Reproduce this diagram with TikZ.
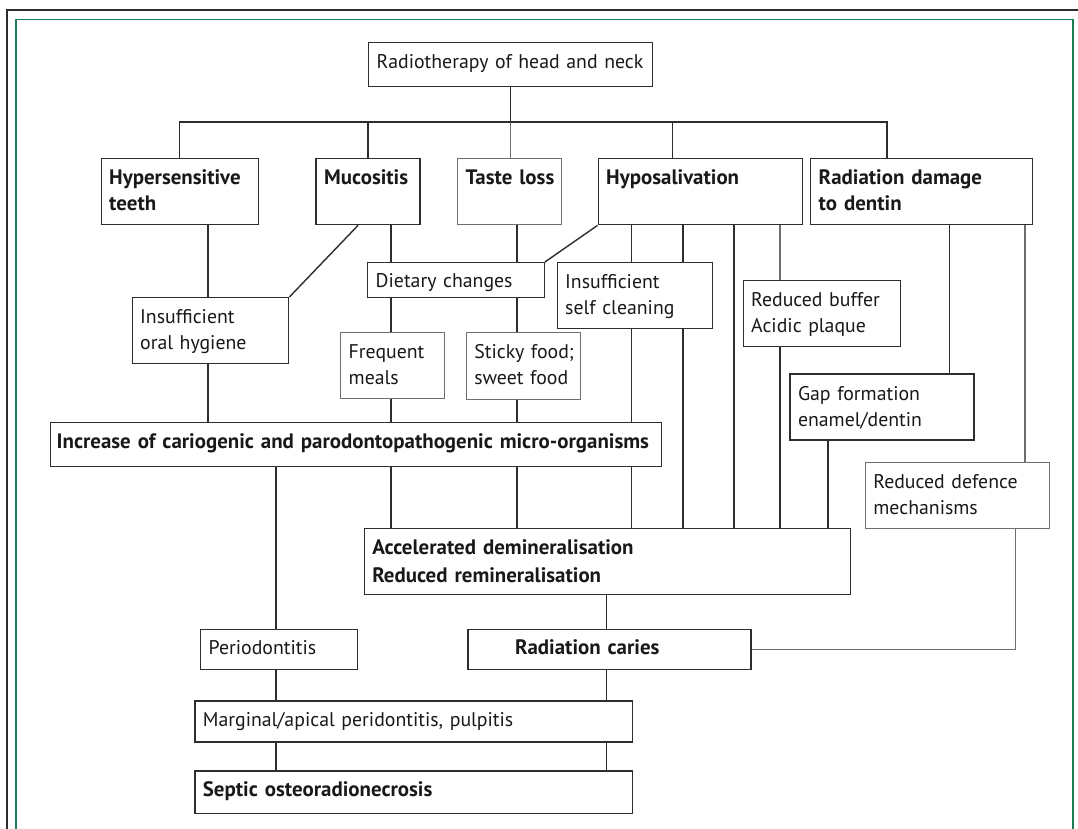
\documentclass[tikz,border=0pt]{standalone}
\usepackage{fontspec}
\setmainfont{PT Sans}
\usetikzlibrary{calc}
\definecolor{frame}{RGB}{25,125,85}
\definecolor{ink}{RGB}{45,45,45}
\definecolor{faint}{RGB}{110,110,110}

\begin{document}
\begin{tikzpicture}[x=1pt,y=-1pt,
    box/.style={draw=ink, line width=1.4pt, anchor=north west, inner sep=0pt,
      inner xsep=8pt, align=left, text height=26pt, text=black!90,
      font=\fontsize{19.8}{26}\selectfont},
    boldbox/.style={box, font=\fontsize{20.9}{26}\selectfont\bfseries},
    pale/.style={draw=faint},
    wire/.style={draw=ink, line width=1.4pt},
    palewire/.style={wire, draw=faint}]
    %%%%% FRAME %%%%%
    \clip (0,0) rectangle (1078,828);
    \fill[white] (0,0) rectangle (1078,828);
    \draw[ink, line width=1.6pt] (7,10) rectangle (1100,860);
    \draw[frame, line width=1.8pt] (16,19.5) rectangle (1073,860);

    %%%%% BOXES %%%%%
    \node[box, text width=268pt, text depth=18pt] (radio) at (368,42) {Radiotherapy of head and neck};

    \node[boldbox, text width=141pt, text depth=40pt] (hyper) at (100.5,158) {Hypersensitive\\teeth};
    \node[boldbox, text width=88pt, text depth=40pt] (muco) at (315.4,158) {Mucositis};
    \node[boldbox, pale, text width=88pt, text depth=40pt] (taste) at (457,158) {Taste~loss};
    \node[boldbox, text width=188pt, text depth=40pt] (hypo) at (597.5,158) {Hyposalivation};
    \node[boldbox, text width=206pt, text depth=40pt] (dentin) at (810,158) {Radiation damage\\to dentin};

    \node[box, text width=140.5pt, text depth=40pt] (oral) at (131.5,297) {Insufficient\\oral hygiene};
    \node[box, text width=160.5pt, text height=25pt, text depth=10pt] (diet) at (367,262) {Dietary changes};
    \node[box, pale, text width=88pt, text depth=40pt] (meals) at (340,332) {Frequent\\meals};
    \node[box, pale, text width=98pt, text depth=40.5pt] (sticky) at (465.6,332) {Sticky~food;\\sweet~food};
    \node[box, text width=139.5pt, text depth=40pt] (clean) at (556.5,262) {Insufficient\\self cleaning};
    \node[box, text width=141.5pt, text depth=40pt] (buffer) at (742.5,280) {Reduced buffer\\Acidic plaque};
    \node[box, text width=168pt, text depth=40pt] (gap) at (789.3,373.3) {Gap formation\\enamel/dentin};
    \node[box, pale, text width=168pt, text depth=40pt] (defence) at (864.7,462) {Reduced defence\\mechanisms};

    \node[boldbox, inner xsep=6pt, text width=599pt, text depth=18pt] (micro) at (50,422) {\mbox{Increase of cariogenic and parodontopathogenic micro-organisms}};
    \node[boldbox, text width=470.4pt, text depth=40pt, font=\fontsize{20.9}{27.5}\selectfont\bfseries] (demin) at (363.6,528) {Accelerated demineralisation\\Reduced remineralisation};

    \node[box, text width=141pt, text height=25pt, text depth=15pt] (perio) at (200,629) {Periodontitis};
    \node[boldbox, text width=267pt, text height=25pt, text depth=15pt] (caries) at (467.3,629) {\hspace*{39pt}Radiation caries};
    \node[box, text width=421.4pt, text height=25pt, text depth=16pt] (marginal) at (194.2,700.3) {Marginal/apical peridontitis, pulpitis};
    \node[boldbox, text width=421.4pt, text height=25pt, text depth=17.4pt] (septic) at (194.2,770.3) {Septic osteoradionecrosis};

    %%%%% COLUMNS %%%%%
    \coordinate (bus) at (0,122);
    \coordinate (hypodrop) at (672.6,0);
    \coordinate (dentdrop) at (887,0);
    \coordinate (colA) at (208,0);
    \coordinate (colB) at (276,0);
    \coordinate (colC) at (391,0);
    \coordinate (colD) at (517,0);
    \coordinate (colE) at (606.5,0);
    \coordinate (colF) at (631.3,0);
    \coordinate (colG) at (683,0);
    \coordinate (colH) at (734,0);
    \coordinate (colI) at (780,0);
    \coordinate (colJ) at (828,0);
    \coordinate (colK) at (949.4,0);
    \coordinate (colL) at (1015.2,0);
    \coordinate (colM) at (1024.8,0);

    %%%%% LINKS %%%%%
    \draw[wire] (radio.south) -- (radio.south |- bus);
    \draw[palewire] (radio.south |- bus) -- (radio.south |- taste.north);
    \draw[wire] (hyper.north) |- (dentdrop |- bus) -- (dentdrop |- dentin.north);
    \draw[wire] (muco.north) -- (muco.north |- bus);
    \draw[wire] (hypodrop |- hypo.north) -- (hypodrop |- bus);

    \draw[wire] (colA |- hyper.south) -- (colA |- oral.north);
    \draw[wire] (colA |- oral.south) -- (colA |- micro.north);
    \draw[wire] ([xshift=42.6pt]muco.south west) -- (oral.north east);

    \draw[wire] (colC |- muco.south) -- (colC |- diet.north);
    \draw[wire] (colC |- diet.south) -- (colC |- meals.north);
    \draw[wire] (colC |- meals.south) -- (colC |- micro.north);
    \draw[wire] (colC |- micro.south) -- (colC |- demin.north);

    \draw[wire] (colD |- taste.south) -- (colD |- diet.north);
    \draw[wire] (colD |- diet.south) -- (colD |- sticky.north);
    \draw[wire] (colD |- sticky.south) -- (colD |- micro.north);
    \draw[wire] (colD |- micro.south) -- (colD |- demin.north);

    \draw[wire] (hypo.south west) -- (diet.north east);
    \draw[wire] (colF |- hypo.south) -- (colF |- clean.north);
    \draw[wire] (colF |- clean.south) -- (colF |- micro.north);
    \draw[wire] (colF |- micro.south) -- (colF |- demin.north);
    \draw[wire] (colG |- hypo.south) -- (colG |- clean.north);
    \draw[wire] (colG |- clean.south) -- (colG |- demin.north);
    \draw[wire] (colH |- hypo.south) -- (colH |- demin.north);
    \draw[palewire] (colI |- hypo.south) -- (colI |- buffer.north);
    \draw[wire] (colI |- buffer.south) -- (colI |- demin.north);

    \draw[wire] (colK |- dentin.south) -- (colK |- gap.north);
    \draw[wire] (colJ |- gap.south) -- (colJ |- demin.north);
    \draw[palewire] (colM |- dentin.south) -- (colM |- defence.north);
    \draw[palewire] (colL |- defence.south) |- (caries.east);

    \draw[wire] (colB |- micro.south) -- (colB |- perio.north);
    \draw[wire] (colB |- perio.south) -- (colB |- marginal.north);
    \draw[wire] (colB |- marginal.south) -- (colB |- septic.north);
    \draw[wire] (colE |- demin.south) -- (colE |- caries.north);
    \draw[wire] (colE |- caries.south) -- (colE |- marginal.north);
    \draw[wire] (colE |- marginal.south) -- (colE |- septic.north);
\end{tikzpicture}
\end{document}
